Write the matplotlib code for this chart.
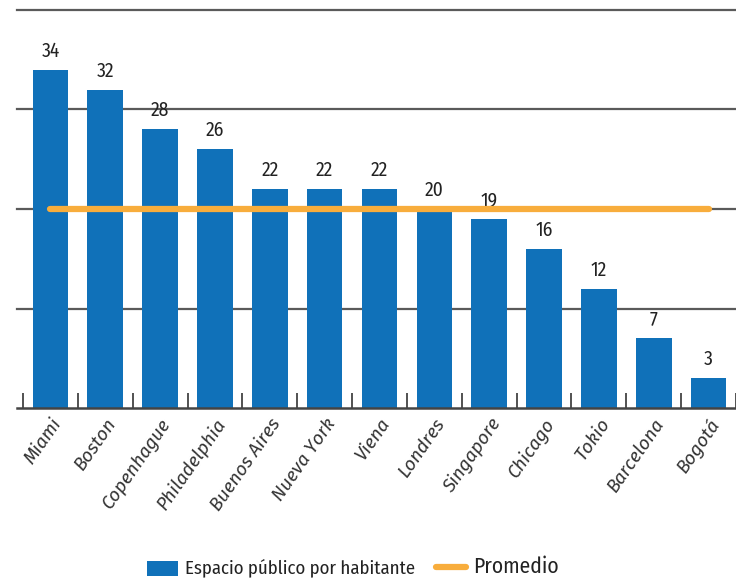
import matplotlib
matplotlib.use("Agg")
import matplotlib.pyplot as plt
from matplotlib.lines import Line2D
from matplotlib.patches import Patch
import numpy as np

cities = ["Miami", "Boston", "Copenhague", "Philadelphia", "Buenos Aires", "Nueva York",
          "Viena", "Londres", "Singapore", "Chicago", "Tokio", "Barcelona", "Bogotá"]
values = [34, 32, 28, 26, 22, 22, 22, 20, 19, 16, 12, 7, 3]
average = 20
grid_levels = [10, 20, 30, 40]

FONT = ["Fira Sans Condensed", "DejaVu Sans"]
LABEL_FONT = ["Fira Sans", "DejaVu Sans"]
plt.rcParams['font.family'] = FONT

BLUE = "#1071b9"
ORANGE = "#f8ad3c"

fig = plt.figure(figsize=(7.36, 5.81), dpi=100)
ax = fig.add_axes([17/736, 1-408/581, 1-17/736, (408-10)/581])

x = np.arange(len(cities))
ax.bar(x, values, width=0.65, color=BLUE, zorder=3)
for g in grid_levels:
    ax.axhline(g, color="#5a5a5a", lw=1.6, zorder=1, clip_on=False)
ax.axhline(0, color="#444444", lw=1.8, zorder=4, clip_on=False)
ax.plot([x[0], x[-1]], [average, average], color=ORANGE, lw=4.5, solid_capstyle="round", zorder=5)

for xi, v in zip(x, values):
    ax.text(xi, v + 0.9, str(v), ha="center", va="bottom", fontsize=14, color="#222222")

ax.set_xlim(-0.61, 12.42)
ax.set_ylim(0, 40)
for s in ax.spines.values():
    s.set_visible(False)
ax.set_yticks([])
ax.set_xticks(np.arange(len(cities)+1) - 0.5, minor=False)
ax.tick_params(axis="x", direction="in", length=11, width=1.2, color="#333333", labelbottom=False)
ax.set_xticks(x, minor=True)
ax.tick_params(axis="x", which="minor", length=0)
ax.set_xticklabels(cities, minor=True, rotation=55, ha="right", rotation_mode="anchor",
                   fontsize=13.5, style="italic", weight="normal", color="#333333",
                   family=LABEL_FONT)
ax.tick_params(axis="x", which="minor", pad=5)

handles = [Patch(facecolor=BLUE), Line2D([0], [0], color=ORANGE, lw=4.5, solid_capstyle="round")]
leg = fig.legend(handles, ["Espacio público por habitante", "Promedio"], loc="center",
                 bbox_to_anchor=(353/736, 1-567/581), ncol=2, frameon=False,
                 handlelength=2.2, handleheight=1.2, columnspacing=1.5, handletextpad=0.5)
leg.get_texts()[0].set_fontsize(13.5)
leg.get_texts()[1].set_fontsize(15.5)
for t in leg.get_texts():
    t.set_color("#222222")

fig.savefig("out.png", dpi=100)
